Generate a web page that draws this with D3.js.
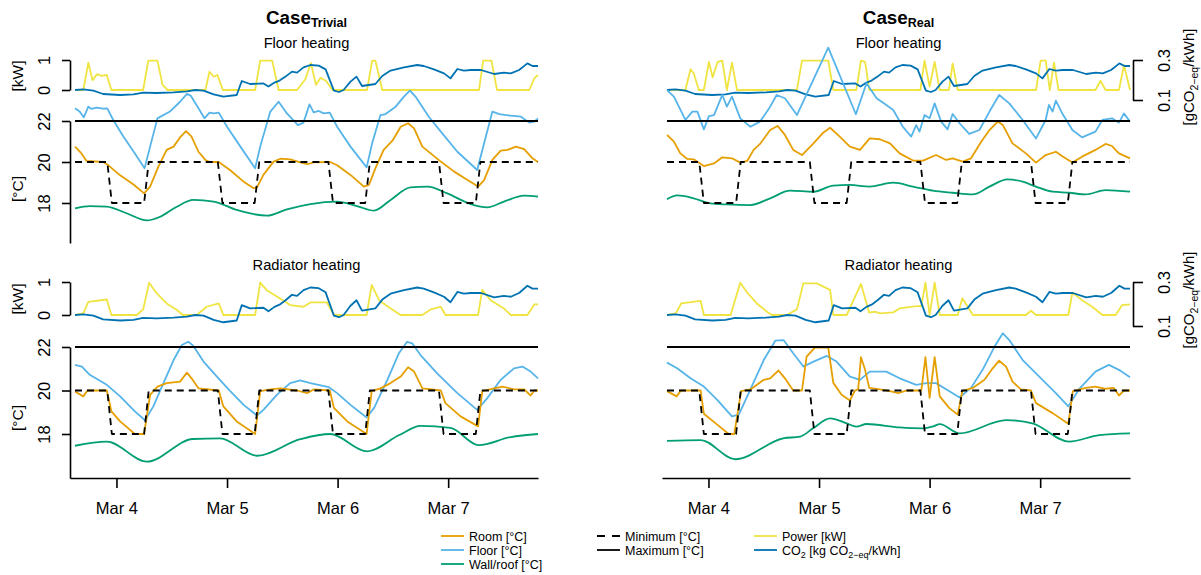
<!DOCTYPE html>
<html>
<head>
<meta charset="utf-8">
<script src="https://cdn.jsdelivr.net/npm/d3@7"></script>
<style>
  body { margin: 0; background: #fff; }
  svg { display: block; font-family: "Liberation Sans", Arial, Helvetica, sans-serif; }
</style>
</head>
<body>
<svg id="chart" width="1201" height="575"></svg>
<script>
// DATA  -- each point is [hours since Mar 4 00:00, value]

var tempMin = [[-9,20],[-2,20],[-1,18],[6,18],[7,20],[22,20],[23,18],[30,18],[31,20],[46,20],[47,18],[54,18],[55,20],[70,20],[71,18],[78,18],[79,20],[91.5,20]];
var tempMax = [[-9,22],[91.5,22]];

// CO2 intensity, same for all four panels [kg CO2-eq/kWh]
var co2 = [[-9,0.150],[-7.2,0.153],[-5.0,0.147],[-2.9,0.130],[0.8,0.125],[3.7,0.128],[5.8,0.137],[8.7,0.135],[12.4,0.138],[15.3,0.143],[17.1,0.150],[18.9,0.147],[21.1,0.128],[23.2,0.117],[26.1,0.125],[27.2,0.195],[29.0,0.180],[31.9,0.183],[33.0,0.167],[34.3,0.187],[35.4,0.197],[36.7,0.217],[38.1,0.242],[39.2,0.237],[40.6,0.263],[42.1,0.275],[43.9,0.272],[45.4,0.253],[47.2,0.147],[48.3,0.140],[49.3,0.150],[50.8,0.192],[52.1,0.217],[53.3,0.170],[56.2,0.180],[57.7,0.220],[59.5,0.247],[62.4,0.263],[65.3,0.275],[66.7,0.270],[68.9,0.253],[71.1,0.233],[72.5,0.208],[74.0,0.255],[75.4,0.247],[76.9,0.250],[79.1,0.250],[82.0,0.230],[84.1,0.237],[85.6,0.233],[87.4,0.250],[89.2,0.283],[90.3,0.270],[91.5,0.270]];

// Case Trivial - floor heating
var powerFloorTrivial = [[-9,0],[-7.2,0],[-6.1,0.91],[-5.2,0.33],[-4.2,0.53],[-3.2,0.47],[-2.1,0.5],[-1.1,0],[5.8,0],[6.9,0.98],[8.9,0.98],[10.0,0.17],[11.1,0],[19.3,0],[20.2,0.61],[21.1,0.44],[21.9,0.5],[23.1,0],[30.1,0],[31.2,0.98],[33.8,0.98],[35.2,0],[39.2,0],[41.0,0.36],[42.2,0.9],[43.3,0.17],[44.3,0.41],[45.5,0.3],[46.9,0],[54.4,0],[55.5,0.98],[56.2,0.98],[57.7,0],[78.7,0],[79.6,0.98],[81.4,0.98],[82.6,0],[89.6,0],[90.7,0.39],[91.5,0.5]];
var roomFloorTrivial = [[-9,20.75],[-7.6,20.42],[-6.5,20.05],[-2.9,20.0],[-1.8,19.85],[0.8,19.35],[3.7,18.9],[6.0,18.47],[7.3,18.8],[9.1,19.77],[10.9,20.59],[12.4,20.75],[13.8,21.2],[15.1,21.51],[16.3,21.24],[17.8,20.5],[19.3,20.1],[20.3,20.0],[22.2,20.0],[24.7,19.6],[27.6,19.04],[29.8,18.72],[30.5,18.76],[31.9,19.37],[34.1,20.02],[35.6,20.16],[37.7,20.13],[39.9,19.98],[41.4,19.89],[42.8,19.98],[46.4,20.0],[47.9,19.84],[50.8,19.37],[53.7,18.8],[54.8,18.88],[56.2,19.69],[58.0,20.59],[59.9,21.04],[61.7,21.72],[63.3,21.89],[64.6,21.64],[66.4,20.75],[68.2,20.42],[70.4,20.02],[73.3,19.53],[76.2,19.12],[78.5,18.8],[79.8,19.12],[81.6,20.1],[83.4,20.55],[84.9,20.59],[86.7,20.75],[88.5,20.63],[90.3,20.18],[91.5,20.0]];
var floorFloorTrivial = [[-9,22.62],[-8,22.46],[-7.1,22.18],[-6.1,22.7],[-5.4,22.59],[-4.3,22.65],[-2.9,22.6],[-2.0,22.62],[-0.7,22.05],[1.5,21.24],[4.0,20.42],[6.1,19.69],[7.3,20.75],[8.9,22.13],[11.6,22.46],[13.8,22.94],[15.3,23.32],[16.1,23.24],[17.8,22.62],[19.1,22.13],[20.2,22.41],[21.1,22.37],[22.2,22.41],[24.0,21.72],[26.9,20.75],[30.1,19.69],[31.2,20.75],[33.4,22.46],[35.2,22.94],[37.0,22.37],[39.4,21.8],[40.6,21.92],[41.9,22.81],[42.8,22.42],[43.9,22.49],[45.0,22.37],[46.3,22.41],[47.9,21.72],[50.8,20.75],[54.3,19.74],[55.5,20.91],[57.3,22.29],[58.4,22.34],[60.6,22.7],[62.4,23.19],[63.7,23.48],[64.9,23.19],[67.8,22.21],[70.4,21.48],[74.0,20.5],[78.3,19.61],[79.8,20.91],[81.6,22.46],[83.1,22.34],[85.6,22.26],[87.8,22.21],[89.6,21.92],[90.7,21.97],[91.5,22.13]];
var wallFloorTrivial = [[-9,17.74],[-5.8,17.85],[-2.1,17.82],[2.2,17.5],[6.6,17.15],[9.5,17.33],[13.1,17.82],[16.7,18.15],[21.1,18.07],[26.1,17.66],[32.7,17.38],[37.0,17.69],[42.1,17.95],[47.9,18.07],[52.2,17.85],[55.9,17.63],[59.5,18.15],[63.8,18.76],[67.5,18.8],[71.8,18.47],[76.9,17.95],[80.5,17.79],[84.1,18.07],[88.5,18.36],[91.5,18.31]];

// Case Trivial - radiator heating
var powerRadTrivial = [[-9,0],[-7.2,0.05],[-6.1,0.40],[-2.1,0.47],[-1.1,0],[4.4,0],[5.8,0.17],[7.1,0.98],[8.7,0.66],[10.9,0.35],[13.1,0.15],[14.4,0],[17.4,0],[19.6,0.25],[22.2,0.35],[23.2,0],[30.1,0],[31.2,0.98],[32.7,0.74],[36.3,0.43],[37.7,0.30],[40.6,0.25],[42.1,0.38],[45.7,0.38],[47.2,0],[54.3,0],[55.4,0.91],[57.0,0.45],[59.5,0.2],[61.7,0],[66.4,0],[68.2,0.17],[70.4,0.25],[71.4,0],[78.5,0],[79.4,0.76],[81.2,0.45],[84.1,0.2],[85.6,0],[89.2,0],[90.7,0.32],[91.5,0.32]];
var roomRadTrivial = [[-9,19.95],[-7.2,19.73],[-6.3,20.0],[-2.1,20.0],[-1.1,19.04],[0.8,18.58],[4.0,18.0],[6.0,18.0],[7.3,19.8],[8.9,20.18],[10.9,20.34],[13.8,20.41],[15.3,20.82],[16.3,20.56],[17.8,20.1],[22.2,20.0],[23.2,19.27],[26.1,18.58],[30.1,18.0],[31.2,19.97],[33.4,20.05],[35.6,20.1],[39.2,20.0],[41.4,19.88],[42.8,20.05],[46.3,20.0],[47.2,19.2],[50.1,18.58],[54.3,18.0],[55.4,19.97],[57.3,20.1],[59.5,20.34],[61.7,20.64],[63.3,21.07],[64.6,20.87],[66.4,20.1],[70.4,20.0],[71.4,19.42],[74.7,18.81],[78.5,18.35],[79.4,19.97],[82.0,20.1],[83.8,20.18],[86.3,20.05],[88.5,20.05],[89.9,19.77],[90.7,20.0],[91.5,20.0]];
var floorRadTrivial = [[-9,21.18],[-7.5,21.1],[-5.8,20.72],[-2.1,20.26],[0.8,19.73],[4.0,19.04],[6.2,18.63],[8.0,19.27],[10.2,20.34],[12.4,21.4],[14.2,22.09],[15.6,22.24],[16.7,22.05],[18.9,21.33],[21.8,20.64],[24.7,19.97],[27.6,19.34],[30.5,18.85],[31.9,19.11],[34.8,19.8],[37.7,20.34],[39.9,20.46],[42.1,20.34],[46.1,20.15],[47.9,19.88],[50.8,19.34],[54.3,18.76],[55.9,19.19],[58.8,20.49],[61.3,21.71],[63.1,22.24],[64.2,22.17],[66.0,21.63],[69.6,20.79],[74.0,19.88],[78.3,19.11],[80.5,19.65],[83.4,20.49],[86.3,21.02],[88.1,21.1],[89.9,20.87],[91.5,20.56]];
var wallRadTrivial = [[-9,17.46],[-2.1,17.65],[6.6,16.73],[16.6,17.77],[22.5,17.8],[30.5,17.0],[39.9,17.76],[46.4,18.0],[54.4,17.2],[61.3,17.94],[66.0,18.37],[72.5,18.28],[78.6,17.49],[85.6,17.86],[91.5,18.0]];

// Case Real - floor heating
var powerFloorReal = [[-9,0],[-5.0,0],[-3.9,0.69],[-3.2,0.56],[-2.1,0],[-1.0,0],[0.1,0.94],[0.9,0.42],[2.0,0.94],[3.0,0.98],[4.0,0],[5.1,0.91],[6.2,0],[19.2,0],[20.3,0.98],[26.0,0.98],[27.1,0],[32.1,0],[33.1,0.98],[34.0,0.94],[34.9,0],[46.0,0],[46.9,0.98],[48.0,0.11],[49.1,0.94],[50.2,0],[52.2,0],[53.0,0.89],[54.1,0],[71.1,0],[72.1,0.98],[73.2,0.98],[74.1,0],[75.0,0.91],[76.0,0],[84.0,0],[85.1,0.31],[86.2,0],[89.1,0],[90.2,0.83],[91.5,0]];
var roomFloorReal = [[-9,21.32],[-7.5,20.99],[-6.1,20.42],[-4.6,20.15],[-3.2,20.13],[-1.0,19.8],[1.2,19.93],[3.0,20.23],[5.1,20.18],[6.9,19.97],[8.4,20.05],[9.8,20.59],[11.2,20.88],[13.4,21.56],[15.0,21.76],[16.6,21.32],[18.4,20.59],[20.3,20.34],[22.8,20.91],[24.9,21.43],[26.4,21.67],[28.5,21.24],[30.7,20.75],[32.9,20.59],[35.0,21.15],[37.2,21.11],[39.4,20.91],[41.5,20.42],[44.4,20.07],[46.6,20.07],[49.4,20.34],[51.6,20.1],[53.0,20.18],[55.2,20.02],[57.0,20.18],[59.2,20.99],[61.0,21.56],[62.8,21.97],[63.9,21.8],[66.0,20.91],[68.9,20.42],[71.1,19.97],[73.2,20.34],[75.4,20.5],[76.8,20.28],[79.0,19.98],[81.1,20.26],[84.0,20.59],[86.2,20.88],[87.6,20.78],[89.1,20.42],[91.5,20.18]];
var floorFloorReal = [[-9,23.51],[-7.5,23.19],[-5.0,22.05],[-3.5,22.46],[-2.4,22.46],[-1.0,21.59],[0.1,22.24],[1.2,22.29],[3.0,23.27],[4.0,22.7],[5.1,23.19],[6.9,22.13],[9.1,21.72],[11.2,21.97],[13.4,22.7],[14.8,23.27],[16.6,23.11],[19.2,22.29],[26.0,25.58],[32.0,22.33],[34.3,23.84],[36.5,23.11],[38.6,22.78],[40.1,22.54],[42.2,21.72],[44.0,21.24],[45.1,21.8],[45.8,21.48],[46.9,22.29],[48.0,22.13],[49.1,22.86],[50.5,21.97],[51.9,21.59],[53.0,22.34],[54.5,21.89],[56.6,21.37],[58.8,21.56],[61.0,22.46],[63.1,23.27],[65.3,22.86],[68.2,22.05],[71.1,21.15],[73.2,22.05],[73.9,22.78],[74.7,22.46],[75.4,22.99],[76.8,22.37],[79.0,21.56],[81.1,21.2],[84.0,21.48],[85.5,22.05],[87.6,22.13],[89.1,21.92],[90.2,22.37],[91.5,21.97]];
var wallFloorReal = [[-9,18.18],[-6.8,18.37],[-3.2,18.23],[0.4,17.98],[4.0,17.93],[9.1,17.9],[13.4,18.23],[17.7,18.6],[22.8,18.55],[27.1,18.85],[30.7,18.88],[35.0,18.8],[40.1,18.99],[44.4,18.8],[48.7,18.6],[53.0,18.5],[57.4,18.42],[61.0,18.8],[64.9,19.15],[68.2,19.04],[71.1,18.8],[74.7,18.55],[78.3,18.5],[81.9,18.42],[86.2,18.63],[91.5,18.55]];

// Case Real - radiator heating
var powerRadReal = [[-9,0],[-7.1,0.05],[-5.9,0.35],[-1.7,0.43],[-1.0,0],[4.8,0],[6.9,0.98],[8.4,0.68],[10.5,0.35],[12.7,0.1],[13.8,0],[17.0,0],[19.2,0.17],[20.6,0.96],[23.5,0.96],[26.4,0.76],[27.1,0],[30.0,0],[33.1,0.94],[34.9,0.07],[36.1,0.1],[37.2,0.05],[40.1,0.08],[41.5,0.2],[45.1,0.27],[46.2,0.27],[47.1,0.98],[48.0,0],[49.1,0.98],[50.2,0],[54.1,0],[55.1,0.51],[57.4,0],[68.9,0],[70.0,0.13],[71.1,0],[78.1,0],[79.0,0.68],[81.1,0.45],[83.3,0.25],[85.5,0],[88.4,0],[89.8,0.3],[91.5,0.32]];
var roomRadReal = [[-9,19.97],[-6.9,19.73],[-6.0,20.0],[-1.7,20.0],[-1.0,18.93],[1.9,18.43],[4.4,18.0],[5.6,18.0],[7.1,19.97],[9.1,20.05],[12.0,20.49],[13.4,20.56],[15.2,20.92],[16.6,20.56],[18.4,20.0],[20.3,20.0],[21.3,21.56],[23.1,21.97],[26.0,21.97],[27.1,20.35],[28.9,19.8],[30.7,19.54],[31.8,20.0],[32.5,20.05],[33.1,21.53],[34.0,20.95],[34.9,20.12],[37.2,20.05],[39.4,19.97],[41.2,19.88],[43.0,20.0],[46.2,20.0],[47.1,21.53],[48.0,19.66],[49.1,21.53],[50.2,19.73],[52.3,19.19],[54.1,18.89],[55.1,19.97],[57.4,20.12],[59.9,20.49],[61.7,21.02],[63.1,21.37],[64.6,21.1],[66.0,20.41],[67.8,20.05],[70.0,20.0],[71.1,19.42],[74.7,18.96],[78.1,18.47],[79.1,19.97],[81.9,20.12],[84.0,20.18],[86.2,20.08],[88.0,20.12],[89.1,19.77],[90.2,20.0],[91.5,20.0]];
var floorRadReal = [[-9,21.28],[-6.8,21.02],[-3.9,20.56],[-1.0,20.18],[1.9,19.57],[5.1,18.81],[6.6,18.89],[9.1,20.05],[12.0,21.4],[14.5,22.29],[16.3,22.32],[18.4,21.71],[20.6,21.1],[22.8,21.33],[25.7,21.59],[27.8,21.33],[30.7,20.64],[32.9,20.49],[35.0,20.87],[38.6,20.87],[41.5,20.56],[45.1,20.26],[47.3,20.34],[49.4,20.34],[52.3,19.97],[54.5,19.68],[57.0,20.12],[59.5,20.95],[62.1,22.02],[63.9,22.63],[65.3,22.32],[68.2,21.4],[71.8,20.64],[75.4,19.88],[78.1,19.27],[80.4,20.05],[84.0,20.87],[86.9,21.18],[89.1,20.95],[91.5,20.61]];
var wallRadReal = [[-9,17.68],[-1.7,17.72],[5.8,16.84],[16.2,17.8],[19.9,17.88],[22.7,18.26],[26.4,18.72],[30.0,18.49],[32.1,18.34],[34.3,18.46],[41.5,18.3],[46.5,18.26],[48.8,18.35],[50.2,18.45],[54.5,18.03],[64.6,18.64],[70.3,18.49],[78.3,17.65],[84.8,17.95],[91.5,18.03]];

var tempTicks = [18, 20, 22];
var kwTicks = [0, 1];
var co2Ticks = [0.1, 0.3];


// SETUP

var svg = d3.select("#chart");
var T0 = Date.UTC(2021, 2, 4);
function toDate(h) { return new Date(T0 + h * 3600000); }

var col = { room: "#E69F00", floor: "#56B4E9", wall: "#009E73", power: "#F0E442", co2: "#0072B2" };
var LW = 1.8;

var cols = [
    { x0: 75, x1: 538, name: "Trivial" },
    { x0: 667, x1: 1130, name: "Real" }
];
var rows = [
    { kw: [90, 60], t18: 203, t22: 121, tEnd: 243, sub: "Floor heating", subY: 47.5, kwLab: 76, tLab: 189 },
    { kw: [315, 282], t18: 434, t22: 347, tEnd: 478, sub: "Radiator heating", subY: 270, kwLab: 299, tLab: 418 }
];
var panels = [
    { c: 0, r: 0, power: powerFloorTrivial, room: roomFloorTrivial, floor: floorFloorTrivial, wall: wallFloorTrivial },
    { c: 0, r: 1, power: powerRadTrivial, room: roomRadTrivial, floor: floorRadTrivial, wall: wallRadTrivial },
    { c: 1, r: 0, power: powerFloorReal, room: roomFloorReal, floor: floorFloorReal, wall: wallFloorReal },
    { c: 1, r: 1, power: powerRadReal, room: roomRadReal, floor: floorRadReal, wall: wallRadReal }
];

function styleAxis(g) {
    g.select(".domain").attr("stroke", "#000").attr("stroke-width", 1.6);
    g.selectAll(".tick line").attr("stroke", "#000").attr("stroke-width", 1.6);
    g.selectAll(".tick text").attr("fill", "#000").style("font-size", "16.5px");
}

// text with subscripts: parts = [[text, isSub], ...]
function rich(sel, parts, subSize, shift) {
    var down = false;
    parts.forEach(function (p) {
        var t = sel.append("tspan").text(p[0]);
        if (p[1] && !down) { t.attr("dy", shift); down = true; }
        else if (!p[1] && down) { t.attr("dy", -shift); down = false; }
        if (p[1]) t.style("font-size", subSize);
    });
}


// DRAWING

panels.forEach(function (p) {
    var c = cols[p.c], r = rows[p.r];
    var x = d3.scaleUtc().domain([toDate(-9), toDate(91.5)]).range([c.x0, c.x1]);
    var yKw = d3.scaleLinear().domain([0, 1]).range(r.kw);
    var yCo2 = d3.scaleLinear().domain([0.15, 0.3]).range(r.kw);
    var yT = d3.scaleLinear().domain([18, 22]).range([r.t18, r.t22]);

    function line(y) {
        return d3.line().x(function (d) { return x(toDate(d[0])); }).y(function (d) { return y(d[1]); });
    }
    function draw(data, y, color, dash, curve) {
        var gen = line(y);
        if (curve) gen.curve(curve);
        svg.append("path").datum(data)
            .attr("fill", "none").attr("stroke", color).attr("stroke-width", LW)
            .attr("stroke-linejoin", "round")
            .attr("stroke-dasharray", dash || null)
            .attr("d", gen);
    }

    draw(p.power, yKw, col.power);
    draw(co2, yCo2, col.co2);
    draw(p.floor, yT, col.floor);
    draw(p.room, yT, col.room);
    draw(p.wall, yT, col.wall, null, d3.curveMonotoneX);
    draw(tempMin, yT, "#000", "7,5");
    draw(tempMax, yT, "#000");

    // subtitle
    svg.append("text").attr("x", (c.x0 + c.x1) / 2).attr("y", r.subY)
        .attr("text-anchor", "middle").style("font-size", "14.7px").text(r.sub);

    // left axes
    if (p.c === 0) {
        var gk = svg.append("g").attr("transform", "translate(70,0)")
            .call(d3.axisLeft(yKw).tickValues(kwTicks).tickFormat(d3.format("d")).tickSize(8).tickSizeOuter(0));
        var yTa = yT.copy().domain([yT.invert(r.tEnd), 22]).range([r.tEnd, r.t22]);
        var gt = svg.append("g").attr("transform", "translate(70,0)")
            .call(d3.axisLeft(yTa).tickValues(tempTicks).tickFormat(d3.format("d")).tickSize(8).tickSizeOuter(0));
        [gk, gt].forEach(function (g) {
            styleAxis(g);
            g.selectAll(".tick text").attr("x", 0).attr("y", -20).attr("dy", 0)
                .attr("text-anchor", "middle").attr("transform", "rotate(-90)");
        });
        svg.append("text").attr("transform", "translate(23," + r.kwLab + ") rotate(-90)")
            .attr("text-anchor", "middle").style("font-size", "15.5px").text("[kW]");
        svg.append("text").attr("transform", "translate(23," + r.tLab + ") rotate(-90)")
            .attr("text-anchor", "middle").style("font-size", "15.5px").text("[°C]");
    }

    // right CO2 axis
    if (p.c === 1) {
        var yCa = yCo2.copy().domain([0.1, 0.3]).range([yCo2(0.1), yCo2(0.3)]);
        var gc = svg.append("g").attr("transform", "translate(1133,0)")
            .call(d3.axisRight(yCa).tickValues(co2Ticks).tickFormat(d3.format(".1f")).tickSize(10).tickSizeOuter(0));
        styleAxis(gc);
        gc.selectAll(".tick text").attr("x", 0).attr("y", 37).attr("dy", 0)
            .attr("text-anchor", "middle").attr("transform", "rotate(-90)");
        var lab = svg.append("text")
            .attr("transform", "translate(1194," + (r.kwLab + 1) + ") rotate(-90)")
            .attr("text-anchor", "middle").style("font-size", "15px");
        rich(lab, [["[gCO", false], ["2\u2212eq", true], ["/kWh]", false]], "10.5px", 4);
    }

    // time axis under the radiator panels
    if (p.r === 1) {
        var xa = x.copy().domain([x.invert(c.x0 - 5), x.invert(c.x1)]).range([c.x0 - 5, c.x1]);
        var gx = svg.append("g").attr("transform", "translate(0,478)")
            .call(d3.axisBottom(xa).ticks(d3.utcDay.every(1)).tickFormat(d3.utcFormat("%b %-d"))
                .tickSize(10).tickSizeOuter(0).tickPadding(14));
        styleAxis(gx);
    }
});

// column titles
cols.forEach(function (c) {
    var t = svg.append("text").attr("x", (c.x0 + c.x1) / 2).attr("y", 24)
        .attr("text-anchor", "middle").style("font-size", "18.8px").style("font-weight", "bold");
    rich(t, [["Case", false], [c.name, true]], "12.5px", 3);
});


// LEGEND

var legendItems = [
    { x: 441, row: 0, color: col.room, parts: [["Room [°C]", false]] },
    { x: 441, row: 1, color: col.floor, parts: [["Floor [°C]", false]] },
    { x: 441, row: 2, color: col.wall, parts: [["Wall/roof [°C]", false]] },
    { x: 597, row: 0, color: "#000", dash: "8,7", parts: [["Minimum [°C]", false]] },
    { x: 597, row: 1, color: "#000", parts: [["Maximum [°C]", false]] },
    { x: 754, row: 0, color: col.power, parts: [["Power [kW]", false]] },
    { x: 754, row: 1, color: col.co2, parts: [["CO", false], ["2", true], [" [kg CO", false], ["2\u2212eq", true], ["/kWh]", false]] }
];

legendItems.forEach(function (d) {
    var y = 536 + d.row * 14;
    svg.append("line").attr("x1", d.x).attr("x2", d.x + 23).attr("y1", y).attr("y2", y)
        .attr("stroke", d.color).attr("stroke-width", LW).attr("stroke-dasharray", d.dash || null);
    var t = svg.append("text").attr("x", d.x + 28).attr("y", y + 4.5).style("font-size", "12.5px");
    rich(t, d.parts, "9px", 3);
});
</script>
</body>
</html>
